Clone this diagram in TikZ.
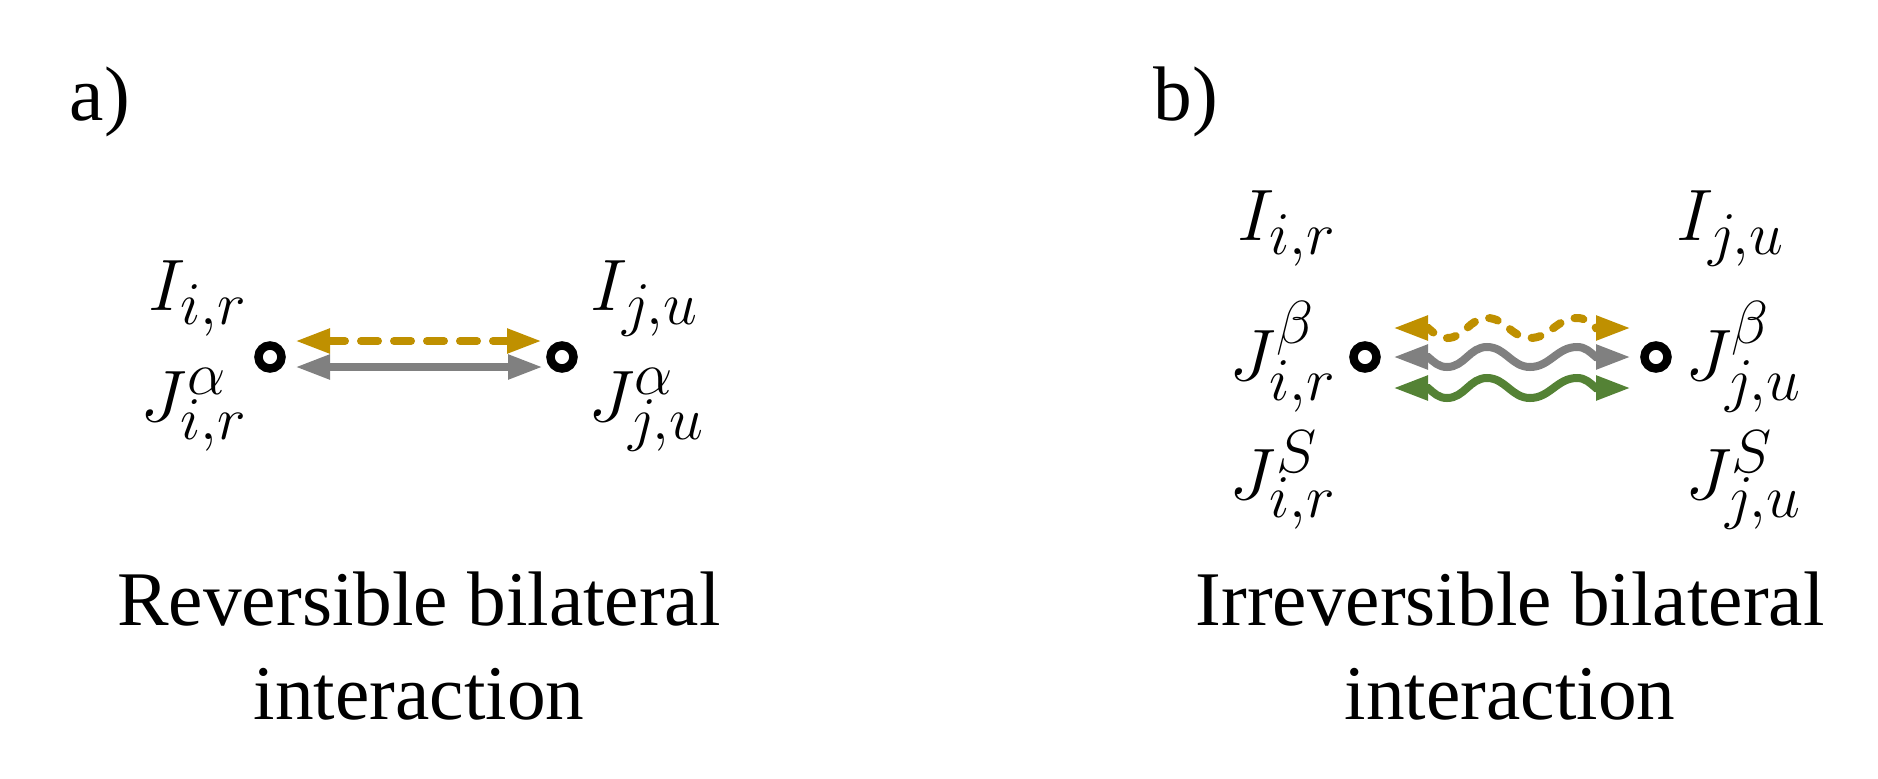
\documentclass[tikz,border=0pt]{standalone}
\usepackage{fontspec}
\setmainfont{Liberation Serif}
\DeclareMathSizes{22}{22}{17}{13}
\usetikzlibrary{arrows.meta}

\definecolor{goldc}{RGB}{191,144,0}
\definecolor{grayc}{RGB}{128,128,128}
\definecolor{greenc}{RGB}{84,130,53}

\tikzset{
  lbl/.style={font=\fontsize{22}{26.5}\selectfont, inner sep=0pt},
  site/.style={circle, draw, line width=0.085cm, minimum size=0.23cm, inner sep=0pt},
  flow/.style={line width=0.08cm,
    arrows={Triangle[length=0.35cm,width=0.23cm]-Triangle[length=0.35cm,width=0.23cm]}},
}

\begin{document}
\begin{tikzpicture}
  \useasboundingbox (0,0) rectangle (18.78,7.78);

  % panel a
  \node[lbl, anchor=base west] (tagA) at (0.69,6.58) {a)};
  \node[site] (ra) at (2.70,4.21) {};
  \node[site] (rb) at (5.62,4.21) {};
  \node[lbl, anchor=base east] (Ia) at (2.48,4.68) {$I_{i,r}$};
  \node[lbl, anchor=base east] (Ja) at (2.48,3.57) {$J^{\alpha}_{i,r}$};
  \node[lbl, anchor=base west] (Ib) at (5.90,4.68) {$I_{j,u}$};
  \node[lbl, anchor=base west] (Jb) at (5.88,3.57) {$J^{\alpha}_{j,u}$};
  \draw[flow, goldc, line cap=round, dash pattern=on 0.17cm off 0.16cm]
    ([shift={(0.25,0.16)}]ra.center) -- ([shift={(-0.20,0.16)}]rb.center);
  \draw[flow, grayc]
    ([shift={(0.25,-0.10)}]ra.center) -- ([shift={(-0.19,-0.10)}]rb.center);
  \node[lbl, align=center] (capA) at (4.19,1.32) {Reversible bilateral\\interaction};

  % panel b
  \node[lbl, anchor=base west] (tagB) at (11.53,6.58) {b)};
  \node[site] (qa) at (13.65,4.21) {};
  \node[site] (qb) at (16.56,4.21) {};
  \node[lbl, anchor=base east] (Iq) at (13.37,5.38) {$I_{i,r}$};
  \node[lbl, anchor=base east] (Bq) at (13.37,3.98) {$J^{\beta}_{i,r}$};
  \node[lbl, anchor=base east] (Sq) at (13.37,2.79) {$J^{S}_{i,r}$};
  \node[lbl, anchor=base west] (Ir) at (16.76,5.38) {$I_{j,u}$};
  \node[lbl, anchor=base west] (Br) at (16.85,3.98) {$J^{\beta}_{j,u}$};
  \node[lbl, anchor=base west] (Sr) at (16.85,2.79) {$J^{S}_{j,u}$};
  \draw[flow, goldc, line cap=round, dash pattern=on 0.09cm off 0.15cm]
    ([shift={(0.28,0.29)}]qa.center) -- ++(0.35,0)
    to[out=-40,in=180] ++(0.19,-0.10)
    to[out=0,in=180] ++(0.40,0.20)
    to[out=0,in=180] ++(0.43,-0.20)
    to[out=0,in=180] ++(0.47,0.20)
    to[out=0,in=140] ++(0.19,-0.10)
    -- ([shift={(-0.25,0.29)}]qb.center);
  \draw[flow, grayc]
    ([xshift=0.28cm]qa.center) -- ++(0.35,0)
    to[out=-40,in=180] ++(0.19,-0.10)
    to[out=0,in=180] ++(0.40,0.20)
    to[out=0,in=180] ++(0.43,-0.20)
    to[out=0,in=180] ++(0.47,0.20)
    to[out=0,in=140] ++(0.19,-0.10)
    -- ([xshift=-0.25cm]qb.center);
  \draw[flow, greenc]
    ([shift={(0.28,-0.31)}]qa.center) -- ++(0.35,0)
    to[out=-40,in=180] ++(0.19,-0.10)
    to[out=0,in=180] ++(0.40,0.20)
    to[out=0,in=180] ++(0.43,-0.20)
    to[out=0,in=180] ++(0.47,0.20)
    to[out=0,in=140] ++(0.19,-0.10)
    -- ([shift={(-0.25,-0.31)}]qb.center);
  \node[lbl, align=center] (capB) at (15.10,1.32) {Irreversible bilateral\\interaction};
\end{tikzpicture}
\end{document}
